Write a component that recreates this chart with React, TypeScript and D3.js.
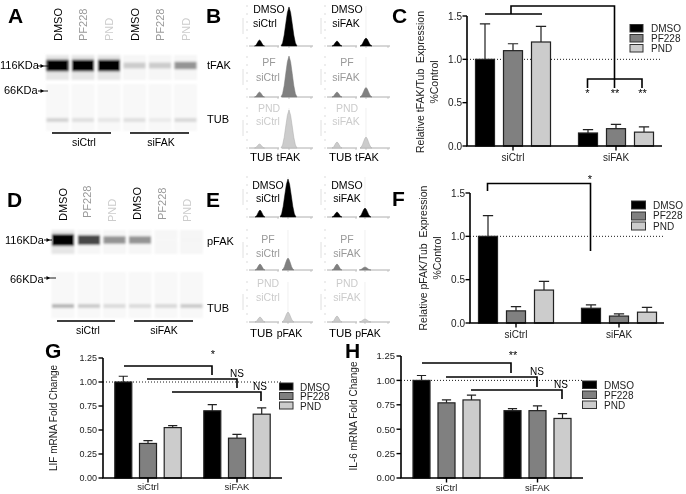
import React from 'react';
import * as d3 from 'd3';

const FONT = '"Liberation Sans", Arial, sans-serif';
const groups = ['siCtrl', 'siFAK'];
const series = ['DMSO', 'PF228', 'PND'];
const barFill = ['#000000', '#808080', '#cccccc'];
const labelFill = ['#000000', '#999999', '#cccccc'];

// bar charts: [siCtrl x3, siFAK x3]
const cMeans = [1.0, 1.1, 1.2, 0.15, 0.2, 0.16];
const cTops = [1.41, 1.18, 1.38, 0.19, 0.25, 0.22];
const fMeans = [1.0, 0.14, 0.38, 0.17, 0.08, 0.125];
const fTops = [1.24, 0.19, 0.48, 0.21, 0.105, 0.18];
const gMeans = [1.0, 0.36, 0.525, 0.7, 0.415, 0.665];
const gTops = [1.06, 0.39, 0.545, 0.765, 0.455, 0.73];
const hMeans = [1.0, 0.77, 0.8, 0.69, 0.69, 0.61];
const hTops = [1.05, 0.8, 0.85, 0.71, 0.74, 0.66];
const ticks15 = [0, 0.5, 1, 1.5];
const ticks125 = [0, 0.25, 0.5, 0.75, 1, 1.25];

// capillary gel band intensities (0 white .. 1 black)
const aFak = [1, 1, 1, 0.2, 0.2, 0.42];
const aTub = [0.17, 0.12, 0.1, 0.12, 0.08, 0.15];
const dFak = [1, 0.72, 0.42, 0.42, 0.03, 0.04];
const dTub = [0.28, 0.2, 0.14, 0.14, 0.15, 0.2];

// electropherogram peak heights: rows DMSO, PF, PND
const bTubL = [6, 5, 4];
const bFakL = [39, 41, 38];
const bTubR = [5, 5, 6];
const bFakR = [8, 9.5, 11];
const eTubL = [7, 6, 5];
const eFakL = [38, 12, 10];
const eTubR = [5, 6, 6];
const eFakR = [9, 3, 3];
const peakShape = [0, 0.08, 0.28, 0.58, 0.86, 1, 0.86, 0.58, 0.28, 0.08, 0];
const peakSteps = [-1, -0.8, -0.6, -0.4, -0.2, 0, 0.2, 0.4, 0.6, 0.8, 1];

type TProps = { x: number; y: number; s?: number; a?: string; f?: string; w?: any; r?: boolean; children?: any };
const T = ({ x, y, s = 11, a = 'start', f = '#000', w = 'normal', r = false, children }: TProps) => (
  <text x={x} y={y} fontSize={s} textAnchor={a as any} fill={f} fontWeight={w}
    transform={r ? `rotate(-90 ${x} ${y})` : undefined}>{children}</text>
);
const Path = ({ d, w = 1.6 }: { d: string; w?: number }) => <path d={d} fill="none" stroke="#000" strokeWidth={w} />;
const Letter = ({ x, y, c }: { x: number; y: number; c: string }) => <T x={x} y={y} s={21} w="bold">{c}</T>;

type BarProps = {
  axisX: number; y0: number; yTop: number; top: number; xEnd: number; centers: number[]; pitch: number; barW: number;
  means: number[]; tops: number[]; ticks: number[]; fmt: string; tickS: number; tickEnd: number; catY: number; catS: number;
};
const Bars = ({ axisX, y0, yTop, top, xEnd, centers, pitch, barW, means, tops, ticks, fmt, tickS, tickEnd, catY, catS }: BarProps) => {
  const y = d3.scaleLinear().domain([0, top]).range([y0, yTop]);
  const gx = d3.scaleOrdinal<string, number>().domain(groups).range(centers);
  const sx = d3.scalePoint().domain(series).range([-pitch, pitch]);
  const f = d3.format(fmt);
  return (
    <g>
      <line x1={axisX} x2={xEnd} y1={y(1)} y2={y(1)} stroke="#000" strokeWidth={0.9} strokeDasharray="1 2" />
      {groups.flatMap((g, gi) => series.map((s, si) => {
        const i = gi * 3 + si;
        const cx = gx(g) + (sx(s) as number);
        return (
          <g key={i}>
            <path d={`M${cx},${y(means[i])}V${y(tops[i])}M${cx - barW * 0.27},${y(tops[i])}H${cx + barW * 0.27}`} fill="none" stroke="#222" strokeWidth={1.2} />
            <rect x={cx - barW / 2} y={y(means[i])} width={barW} height={y0 - y(means[i])} fill={barFill[si]} stroke="#222" strokeWidth={1.2} />
          </g>
        );
      }))}
      <Path d={`M${axisX},${yTop}V${y0}H${xEnd}`} />
      {ticks.map(t => (
        <g key={t}>
          <line x1={axisX - 4.5} x2={axisX} y1={y(t)} y2={y(t)} stroke="#000" strokeWidth={1.4} />
          <T x={tickEnd} y={y(t) + tickS * 0.36} s={tickS} a="end" f="#222">{f(t)}</T>
        </g>
      ))}
      {groups.map(g => (
        <g key={g}>
          <line x1={gx(g)} x2={gx(g)} y1={y0} y2={y0 + 4.5} stroke="#000" strokeWidth={1.4} />
          <T x={gx(g)} y={catY} s={catS} a="middle" f="#222">{g}</T>
        </g>
      ))}
    </g>
  );
};

const Legend = ({ x, tx, ys, tys, w, h, s = 10 }: { x: number; tx: number; ys: number[]; tys: number[]; w: number; h: number; s?: number }) => (
  <g>
    {series.map((n, i) => (
      <g key={n}>
        <rect x={x} y={ys[i]} width={w} height={h} fill={barFill[i]} stroke="#333" strokeWidth={1} />
        <T x={tx} y={tys[i]} s={s} f="#222">{n}</T>
      </g>
    ))}
  </g>
);

type GelProps = {
  lanes: number[]; laneW: number; top: number[]; bottom: number[]; fakY: number; tubY: number;
  topBox: number[]; bottomBox: number[];
};
const Gel = ({ lanes, laneW, top, bottom, fakY, tubY, topBox, bottomBox }: GelProps) => (
  <g filter="url(#gelBlur)">
    {lanes.map((cx, i) => {
      const gray = (v: number) => { const c = Math.round(255 * (1 - v)); return d3.rgb(c, c, c).toString(); };
      const th = 4.5 + 7 * top[i];
      return (
        <g key={i}>
          <rect x={cx - laneW / 2} y={topBox[0]} width={laneW} height={topBox[1] - topBox[0]} fill={top[i] > 0.9 ? '#e6e6e6' : '#f6f6f6'} />
          <rect x={cx - laneW / 2} y={bottomBox[0]} width={laneW} height={bottomBox[1] - bottomBox[0]} fill="#f8f8f8" />
          <rect x={cx - laneW / 2 + 0.5} y={fakY - th / 2} width={laneW - 1} height={th} fill={gray(top[i])} />
          <rect x={cx - laneW / 2 + 0.5} y={tubY - 2} width={laneW - 1} height={4} fill={gray(bottom[i])} />
        </g>
      );
    })}
  </g>
);

const Arrow = ({ x1, x2, y }: { x1: number; x2: number; y: number }) => (
  <g>
    <line x1={x1} x2={x2} y1={y} y2={y} stroke="#000" strokeWidth={0.9} />
    <path d={`M${x1 + 6},${y}l-3.5,-2v4z`} fill="#000" />
  </g>
);

type HistProps = { x0: number; x1: number; base: number; tubC: number; fakC: number; tub: number; fak: number; row: number };
const Hist = ({ x0, x1, base, tubC, fakC, tub, fak, row }: HistProps) => {
  const y = d3.scaleLinear().domain([0, 45]).range([base, base - 45]);
  const peak = (c: number, hw: number, h: number) =>
    d3.area<number>()
      .x((_, i) => d3.scaleLinear().domain([-1, 1]).range([c - hw, c + hw])(peakSteps[i]))
      .y0(base).y1(v => y(v * h))(peakShape) as string;
  const stroke = ['#000', '#777', '#aaa'][row];
  const fakW = fak > 20 ? 8 : 6;
  return (
    <g>
      {[0, 1, 2, 3, 4, 5].map(i => (
        <line key={i} x1={x0 - 3} x2={x0 - 1} y1={base - i * 8} y2={base - i * 8} stroke="#ccc" strokeWidth={0.7} />
      ))}
      <line x1={x0 - 6} x2={x0 - 6} y1={base - 28} y2={base - 12} stroke="#e0e0e0" strokeWidth={1} />
      <line x1={fakC} x2={fakC} y1={base - 40} y2={base} stroke="#eaeaea" strokeWidth={0.7} />
      <line x1={x0} x2={x0 + 30} y1={base} y2={base} stroke="#999" strokeWidth={0.8} />
      <line x1={x0 + 33} x2={x1} y1={base} y2={base} stroke="#999" strokeWidth={0.8} />
      {[x0 + 29, x1 - 2, fakC].map((tx, i) => (
        <line key={i} x1={tx} x2={tx} y1={base} y2={base + 2} stroke="#bbb" strokeWidth={0.8} />
      ))}
      <path d={peak(tubC, 5, tub)} fill={barFill[row]} stroke={stroke} strokeWidth={0.5} />
      <path d={peak(fakC, fakW, fak)} fill={barFill[row]} stroke={stroke} strokeWidth={0.5} />
    </g>
  );
};

const histRows = [0, 1, 2];
const laneTop = ['DMSO', 'PF', 'PND'];

export default function App() {
  return (
    <svg width={686} height={494} style={{ position: 'absolute', left: 0, top: 0, background: '#fff' }} fontFamily={FONT}>
      <defs>
        <filter id="gelBlur" x="-5%" y="-5%" width="110%" height="110%"><feGaussianBlur stdDeviation="1" /></filter>
        <filter id="soft" x="0" y="0" width="100%" height="100%"><feGaussianBlur stdDeviation="0.35" /></filter>
      </defs>
      <g filter="url(#soft)">
        {/* Panel A */}
        <Letter x={8} y={23} c="A" />
        {[62, 87, 113, 139, 164, 190].map((x, i) => (
          <T key={i} x={x} y={41} s={11} f={labelFill[i % 3]} r>{series[i % 3]}</T>
        ))}
        <Gel lanes={[57.5, 83, 109, 134.5, 160, 185.5]} laneW={23} top={aFak} bottom={aTub} fakY={65.5} tubY={120} topBox={[55, 80]} bottomBox={[84, 131]} />
        <T x={0} y={69} s={11}>116KDa</T>
        <Arrow x1={38} x2={50} y={66} />
        <T x={4} y={94} s={11}>66KDa</T>
        <Arrow x1={38} x2={48} y={91} />
        <T x={207} y={69} s={11}>tFAK</T>
        <T x={207} y={123} s={11}>TUB</T>
        <Path d="M52,133H111M130,133H189" w={1.3} />
        <T x={84} y={146} s={10.5} a="middle">siCtrl</T>
        <T x={161} y={146} s={10.5} a="middle">siFAK</T>

        {/* Panel D */}
        <Letter x={7} y={207} c="D" />
        {[[67, 221], [91, 218], [116, 222], [141, 220], [166, 220], [191, 222]].map(([x, y], i) => (
          <T key={i} x={x} y={y} s={11} f={labelFill[i % 3]} r>{series[i % 3]}</T>
        ))}
        <Gel lanes={[63, 89, 114.5, 140, 166, 191.5]} laneW={23} top={dFak} bottom={dTub} fakY={240} tubY={306} topBox={[230, 254]} bottomBox={[272, 318]} />
        <T x={5} y={244} s={11}>116KDa</T>
        <Arrow x1={44} x2={52} y={240} />
        <T x={10} y={283} s={11}>66KDa</T>
        <Arrow x1={44} x2={56} y={278} />
        <T x={207} y={245} s={11}>pFAK</T>
        <T x={207} y={312} s={11}>TUB</T>
        <Path d="M57,321H115M134,321H193" w={1.3} />
        <T x={88} y={334} s={10.5} a="middle">siCtrl</T>
        <T x={164} y={334} s={10.5} a="middle">siFAK</T>

        {/* Panel B */}
        <Letter x={206} y={23} c="B" />
        {histRows.map(r => {
          const bases = [46, 97, 148];
          return (
            <g key={r}>
              <Hist x0={249} x1={313} base={bases[r]} tubC={259.5} fakC={289} tub={bTubL[r]} fak={bFakL[r]} row={r} />
              <Hist x0={327} x1={390} base={bases[r]} tubC={337} fakC={366} tub={bTubR[r]} fak={bFakR[r]} row={r} />
            </g>
          );
        })}
        {histRows.map(r => {
          const y1 = [13, 66, 112][r], y2 = [27, 81, 125][r];
          const f = labelFill[r];
          return (
            <g key={r}>
              <T x={269} y={y1} s={10.5} a="middle" f={f}>{laneTop[r]}</T>
              <T x={r === 0 ? 265 : 268} y={y2} s={10.5} a="middle" f={f}>siCtrl</T>
              <T x={347} y={y1} s={10.5} a="middle" f={f}>{laneTop[r]}</T>
              <T x={346} y={y2} s={10.5} a="middle" f={f}>siFAK</T>
            </g>
          );
        })}
        <T x={261.5} y={161} s={11.5} a="middle">TUB</T>
        <T x={288.5} y={161} s={11} a="middle">tFAK</T>
        <T x={340.5} y={161} s={11.5} a="middle">TUB</T>
        <T x={367} y={161} s={11} a="middle">tFAK</T>

        {/* Panel E */}
        <Letter x={206} y={207} c="E" />
        {histRows.map(r => {
          const bases = [217, 270, 322];
          return (
            <g key={r}>
              <Hist x0={249} x1={313} base={bases[r]} tubC={260} fakC={288} tub={eTubL[r]} fak={eFakL[r]} row={r} />
              <Hist x0={327} x1={390} base={bases[r]} tubC={337} fakC={365} tub={eTubR[r]} fak={eFakR[r]} row={r} />
            </g>
          );
        })}
        {histRows.map(r => {
          const y1 = [189, 243, 287][r], y2 = [202, 257, 301][r];
          const f = labelFill[r];
          return (
            <g key={r}>
              <T x={268} y={y1} s={10.5} a="middle" f={f}>{laneTop[r]}</T>
              <T x={268} y={y2} s={10.5} a="middle" f={f}>siCtrl</T>
              <T x={347} y={y1} s={10.5} a="middle" f={f}>{laneTop[r]}</T>
              <T x={347} y={y2} s={10.5} a="middle" f={f}>siFAK</T>
            </g>
          );
        })}
        <T x={261.5} y={337} s={11.5} a="middle">TUB</T>
        <T x={289.5} y={337} s={10.5} a="middle">pFAK</T>
        <T x={340.5} y={337} s={11.5} a="middle">TUB</T>
        <T x={368} y={337} s={10.5} a="middle">pFAK</T>

        {/* Panel C */}
        <Letter x={392} y={23} c="C" />
        <Bars axisX={467} y0={146} yTop={16} top={1.5} xEnd={662} centers={[513, 616]} pitch={28} barW={19} means={cMeans} tops={cTops} ticks={ticks15} fmt=".1f" tickS={10} tickEnd={462} catY={161} catS={10} />
        <T x={424} y={82} s={10.5} a="middle" f="#222" r>{'Relative tFAK/Tub\u00a0\u00a0Expression'}</T>
        <T x={438} y={82} s={10.5} a="middle" f="#222" r>%Control</T>
        <Legend x={630} tx={651} ys={[24.5, 34.5, 44.5]} tys={[32, 41.5, 52]} w={13} h={7.5} />
        <Path d="M485,14H542M511,14V6H614.5V88M587.5,88V79H642V88" />
        <T x={587.5} y={97} s={11} a="middle">*</T>
        <T x={615} y={97} s={11} a="middle">**</T>
        <T x={642.5} y={97} s={11} a="middle">**</T>

        {/* Panel F */}
        <Letter x={392} y={206} c="F" />
        <Bars axisX={470} y0={323} yTop={193} top={1.5} xEnd={664} centers={[516, 619]} pitch={28} barW={19} means={fMeans} tops={fTops} ticks={ticks15} fmt=".1f" tickS={10} tickEnd={465} catY={338} catS={10} />
        <T x={427} y={258} s={10.5} a="middle" f="#222" r>{'Relative pFAK/Tub\u00a0\u00a0Expression'}</T>
        <T x={441} y={258} s={10.5} a="middle" f="#222" r>%Control</T>
        <Legend x={631.5} tx={653} ys={[201, 212, 222]} tys={[208.5, 219, 230]} w={14} h={8} />
        <Path d="M487.5,191V183.5H590.5V251" />
        <T x={590} y={183} s={11} a="middle">*</T>

        {/* Panel G */}
        <Letter x={45} y={358} c="G" />
        <Bars axisX={103} y0={478} yTop={358} top={1.25} xEnd={282} centers={[148, 237]} pitch={24.7} barW={17} means={gMeans} tops={gTops} ticks={ticks125} fmt=".2f" tickS={9} tickEnd={97} catY={490} catS={9.5} />
        <T x={57} y={418} s={10} a="middle" f="#222" r>LIF mRNA Fold Change</T>
        <Legend x={279.5} tx={300} ys={[383, 392.5, 402]} tys={[390.5, 400, 409.5]} w={13.5} h={7} />
        <Path d="M124,366H212V375M147,379H237V388M172,392H261V401" />
        <T x={213} y={358} s={11} a="middle">*</T>
        <T x={237} y={377} s={10} a="middle">NS</T>
        <T x={260} y={390} s={10} a="middle">NS</T>

        {/* Panel H */}
        <Letter x={345} y={358} c="H" />
        <Bars axisX={401} y0={478} yTop={356} top={1.25} xEnd={583} centers={[446.5, 537.5]} pitch={25} barW={17} means={hMeans} tops={hTops} ticks={ticks125} fmt=".2f" tickS={9.5} tickEnd={395} catY={491} catS={9.5} />
        <T x={357} y={416} s={10} a="middle" f="#222" r>IL-6 mRNA Fold Change</T>
        <Legend x={582.5} tx={604} ys={[381, 391, 401]} tys={[388.5, 398.5, 408.5]} w={14} h={7.5} />
        <Path d="M422,363H511V373M446,377H537V387M471,390H562V399" />
        <T x={513} y={359} s={11} a="middle">**</T>
        <T x={537} y={375} s={10} a="middle">NS</T>
        <T x={561} y={388} s={10} a="middle">NS</T>
      </g>
    </svg>
  );
}
